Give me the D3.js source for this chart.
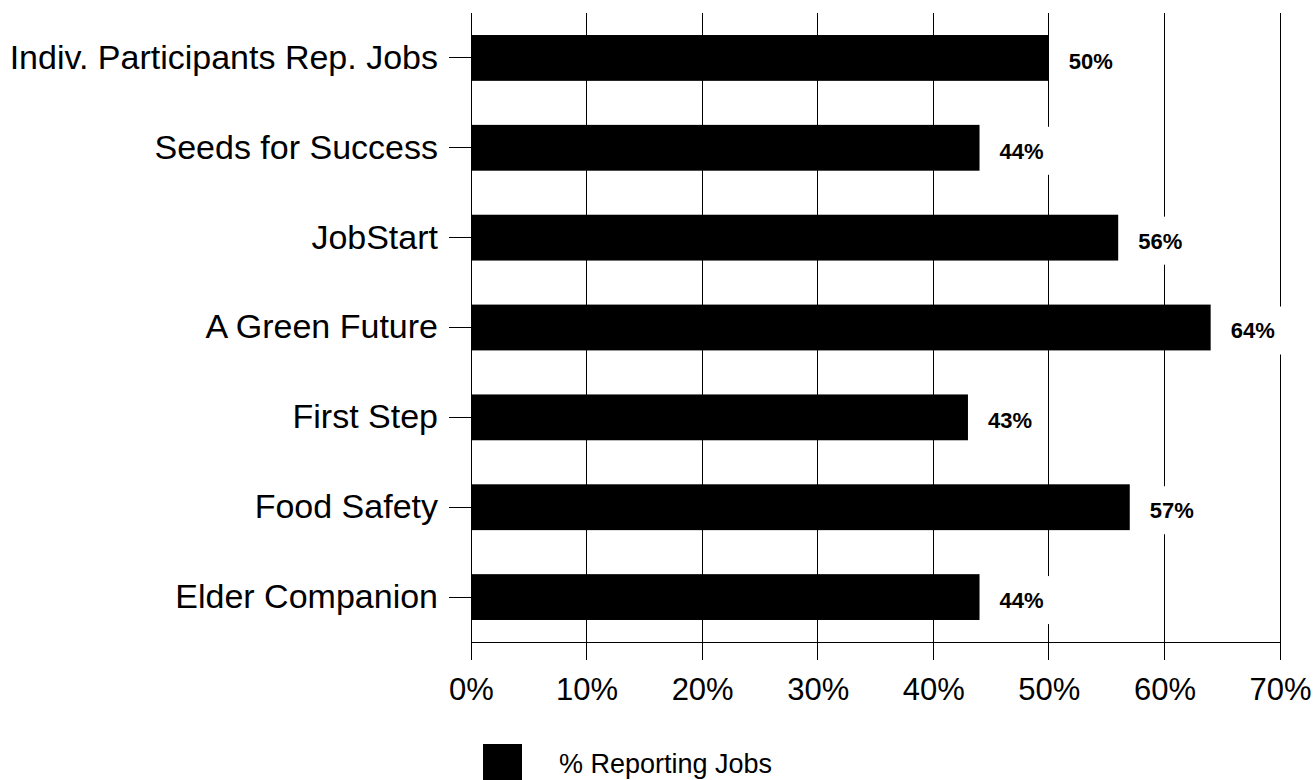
<!DOCTYPE html>
<html><head><meta charset="utf-8">
<script src="https://cdn.jsdelivr.net/npm/d3@7/dist/d3.min.js"></script>
<style>body{margin:0;background:#fff}svg{display:block}text{font-family:"Liberation Sans",Arial,sans-serif}</style>
</head><body><svg id="c" width="1313" height="780"></svg>
<script>
const categories = ["Indiv. Participants Rep. Jobs","Seeds for Success","JobStart","A Green Future","First Step","Food Safety","Elder Companion"];
const values = [50,44,56,64,43,57,44];
const xTicks = [0,10,20,30,40,50,60,70];
const seriesName = "% Reporting Jobs";

const FONT = '"Liberation Sans",Arial,sans-serif';
const svg = d3.select("#c");
const pL = 471, pR = 1280, pT = 13, pB = 642;
const x = d3.scaleLinear().domain([0,70]).range([pL,pR]);
const y = d3.scaleBand().domain(categories).range([pT,pB]).paddingInner(0.49).paddingOuter(0.245);

// gridlines
svg.append("g").selectAll("line").data(xTicks).join("line")
  .attr("x1",d=>x(d)).attr("x2",d=>x(d)).attr("y1",pT).attr("y2",pB+18)
  .attr("stroke","#000").attr("stroke-width",1).attr("shape-rendering","crispEdges");
// bottom axis line
svg.append("line").attr("x1",pL).attr("x2",pR).attr("y1",pB).attr("y2",pB)
  .attr("stroke","#000").attr("shape-rendering","crispEdges");

// x axis labels
const xa = svg.append("g").attr("transform",`translate(0,${pB})`)
  .call(d3.axisBottom(x).tickValues(xTicks).tickFormat(d=>d+"%").tickSize(0).tickPadding(36));
xa.select(".domain").remove();
xa.selectAll("text").attr("font-size",31).attr("fill","#000").style("font-family",FONT);

// y axis
const ya = svg.append("g").attr("transform",`translate(${pL},0)`)
  .call(d3.axisLeft(y).tickSize(22).tickPadding(11));
ya.select(".domain").remove();
ya.selectAll("line").attr("stroke","#000").attr("shape-rendering","crispEdges");
ya.selectAll("text").attr("font-size",34).attr("fill","#000").style("font-family",FONT);

// bars
svg.append("g").selectAll("rect").data(values).join("rect")
  .attr("x",x(0)).attr("y",(d,i)=>y(categories[i])).attr("width",d=>x(d)-x(0)).attr("height",y.bandwidth())
  .attr("fill","#000");

// value labels with white box
const lg = svg.append("g").selectAll("g").data(values).join("g")
  .attr("transform",(d,i)=>`translate(${x(d)+20},${y(categories[i])+y.bandwidth()/2+3})`);
lg.append("rect").attr("x",-9).attr("y",-24).attr("width",63).attr("height",48).attr("fill","#fff");
lg.append("text").text(d=>d+"%").attr("font-size",22).attr("font-weight","bold").attr("dy","0.36em").attr("fill","#000");

// legend
svg.append("rect").attr("x",483).attr("y",744).attr("width",39).attr("height",38).attr("fill","#000");
svg.append("text").attr("x",559).attr("y",773).attr("font-size",27).text(seriesName);
</script></body></html>
